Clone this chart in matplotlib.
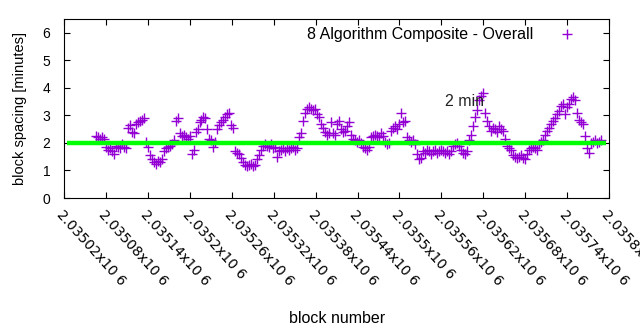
import numpy as np
import matplotlib.pyplot as plt

# block spacing (minutes), in block order
spacing = [
    2.25, 2.2, 2.15, 2.2, 2.15,
    1.85, 1.75, 1.8, 1.7, 1.6,
    1.9, 1.85, 1.8, 1.95, 1.85, 1.8,
    2.55, 2.65, 2.4, 2.35,
    2.7, 2.75, 2.8, 2.85, 2.9,
    2.05, 1.85,
    1.55, 1.4, 1.3, 1.25, 1.35, 1.3, 1.4,
    1.7, 1.8, 1.85, 1.9, 1.95, 2.1,
    2.8, 2.9,
    2.35, 2.25, 2.3, 2.2, 2.15, 2.25,
    1.6, 1.75, 2.4, 2.5,
    2.75, 2.85, 2.95, 2.9, 2.5,
    2.15, 2.1, 1.85, 2.05,
    2.5, 2.65, 2.75, 2.85, 2.95, 3.05, 3.1,
    2.65, 2.55,
    1.7, 1.65, 1.6, 1.45,
    1.3, 1.2, 1.15, 1.2, 1.25, 1.15, 1.2,
    1.4, 1.55, 1.75, 1.9,
    1.95, 1.9, 1.85, 1.95, 1.8, 1.85, 1.5,
    1.7, 1.75, 1.8, 1.7,
    1.8, 1.75, 1.8, 1.85, 1.75, 1.8,
    2.2, 2.35, 2.8,
    3.1, 3.25, 3.3, 3.25, 3.2, 3.25,
    3.05, 2.95, 2.7, 2.55,
    2.4, 2.3, 2.35, 2.75, 2.35, 2.3,
    2.7, 2.8,
    2.5, 2.4, 2.45, 2.6, 2.75,
    2.3, 2.15, 2.1, 2.05, 2.1, 2.0,
    1.85, 1.8, 1.75, 1.85,
    2.2, 2.25, 2.3, 2.25, 2.2, 2.35, 2.25,
    2.05, 1.95, 2.0,
    2.45, 2.55, 2.6, 2.5,
    2.7, 3.1, 2.75, 2.8,
    2.2, 2.1, 2.05, 2.1, 1.95,
    1.6, 1.4, 1.45,
    1.7, 1.65, 1.75, 1.7, 1.6, 1.7, 1.75, 1.65, 1.7, 1.75, 1.7,
    1.65, 1.7, 1.6, 1.7,
    1.9, 1.95, 2.0, 1.9,
    1.75, 1.65, 1.6, 1.7,
    2.1, 2.3, 2.6, 2.95, 3.2,
    3.55, 3.7, 3.8, 3.1, 2.8,
    2.6, 2.45, 2.55, 2.5, 2.4, 2.6, 2.5, 2.45,
    2.15, 1.9, 1.8, 1.75,
    1.55, 1.5, 1.45, 1.5, 1.55, 1.45, 1.4,
    1.6, 1.75, 1.8, 1.85, 1.8, 1.75,
    1.95, 2.05, 2.1, 2.3, 2.45,
    2.55, 2.7, 2.8, 2.9, 3.05, 3.15, 3.35, 3.4, 3.05,
    3.3, 3.4, 3.6, 3.65, 3.55, 3.1,
    2.85, 2.75, 2.7, 2.25, 1.8, 1.65,
    2.0, 2.05, 2.1, 2.0, 2.05, 2.1,
]
first_block, last_block = 2035065, 2035788
blocks = np.linspace(first_block, last_block, len(spacing))

target = 2.0
target_range = [2035024, 2035796]
xticks = np.arange(2035020, 2035801, 60)

fig = plt.figure(figsize=(6.4, 3.3), dpi=100)
ax = fig.add_axes([0.1005, 0.4, 0.851, 0.5424])

ax.plot(blocks, spacing, linestyle='none', marker='+', markersize=6.5,
        markeredgewidth=1.0, color='#9400d3', label='8 Algorithm Composite - Overall',
        zorder=2)
ax.plot(target_range, [target, target], color='#00ff00', linewidth=3.2, zorder=3,
        solid_capstyle='butt')
ax.text(2035565, 3.5, '2 min', fontsize=11.5, family='Liberation Sans',
        ha='left', va='center', color='#222222')

ax.set_xlim(2035020, 2035800)
ax.set_ylim(0, 6.5)
ax.set_yticks(range(0, 7))
ax.set_xticks(xticks)
ax.set_xticklabels([('%.5f' % (v / 1e6)).rstrip('0') + 'x10 6' for v in xticks],
                   rotation=-48, ha='left', va='top', rotation_mode='anchor',
                   family='DejaVu Sans', fontsize=10)
ax.tick_params(direction='in', length=4, width=0.8, top=True, right=True)
ax.tick_params(axis='y', pad=10, labelsize=10)
ax.tick_params(axis='x', pad=7)
for lab in ax.get_yticklabels():
    lab.set_family('Liberation Sans')
for s in ax.spines.values():
    s.set_linewidth(0.8)

ax.set_xlabel('block number', family='Liberation Sans', fontsize=11.5, labelpad=16)
ax.set_ylabel('block spacing [minutes]', family='Liberation Sans', fontsize=10.5, labelpad=11)

leg = ax.legend(loc='upper right', bbox_to_anchor=(0.971, 1.034), frameon=False,
                markerfirst=False, handlelength=1.5, handletextpad=1.375,
                prop={'family': 'Liberation Sans', 'size': 11.5})

fig.savefig('out.png', dpi=100)
